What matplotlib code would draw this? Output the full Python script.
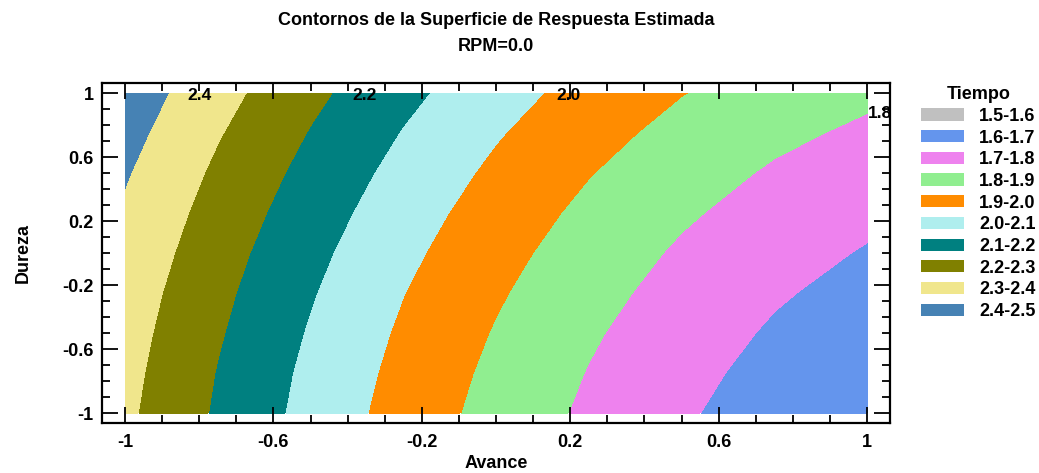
import matplotlib
matplotlib.use("Agg")
import matplotlib.pyplot as plt
from matplotlib.patches import Patch
from matplotlib.ticker import MultipleLocator
import numpy as np

plt.rcParams['font.family'] = ['Liberation Sans', 'DejaVu Sans']
plt.rcParams['font.weight'] = 'bold'

# grid of the estimated surface (Avance x Dureza)
avance = [-1.0, -0.75, -0.5, -0.25, 0.0, 0.25, 0.5, 0.75, 1.0]
dureza = [-1.0, -0.75, -0.5, -0.25, 0.0, 0.25, 0.5, 0.75, 1.0]
tiempo = [
    [2.319, 2.187, 2.067, 1.959, 1.864, 1.782, 1.712, 1.654, 1.609],
    [2.328, 2.196, 2.077, 1.971, 1.877, 1.796, 1.727, 1.670, 1.626],
    [2.339, 2.209, 2.091, 1.985, 1.893, 1.812, 1.744, 1.689, 1.646],
    [2.352, 2.223, 2.107, 2.002, 1.911, 1.831, 1.765, 1.710, 1.669],
    [2.369, 2.240, 2.125, 2.022, 1.931, 1.853, 1.787, 1.734, 1.693],
    [2.387, 2.260, 2.146, 2.044, 1.954, 1.877, 1.813, 1.760, 1.721],
    [2.408, 2.282, 2.169, 2.068, 1.980, 1.904, 1.840, 1.789, 1.751],
    [2.432, 2.307, 2.195, 2.095, 2.008, 1.933, 1.870, 1.820, 1.783],
    [2.458, 2.334, 2.223, 2.124, 2.038, 1.964, 1.903, 1.854, 1.818],
]

levels = [1.5, 1.6, 1.7, 1.8, 1.9, 2.0, 2.1, 2.2, 2.3, 2.4, 2.5]
level_names = ['1.5-1.6', '1.6-1.7', '1.7-1.8', '1.8-1.9', '1.9-2.0',
               '2.0-2.1', '2.1-2.2', '2.2-2.3', '2.3-2.4', '2.4-2.5']
level_colors = ['silver', 'cornflowerblue', 'violet', 'lightgreen', 'darkorange',
                'paleturquoise', 'teal', 'olive', 'khaki', 'steelblue']

# contour labels drawn along the top edge
label_text = ['2.4', '2.2', '2.0', '1.8']
label_x = [-0.80, -0.355, 0.195, 1.035]
label_y = [0.985, 0.985, 0.985, 0.875]

fig = plt.figure(figsize=(10.39, 4.73), dpi=100)
ax = fig.add_axes([0.0982, 0.1057, 0.7584, 0.7188])

X, Y = np.meshgrid(avance, dureza)
ax.contourf(X, Y, np.array(tiempo), levels=levels, colors=level_colors)

for t, lx, ly in zip(label_text, label_x, label_y):
    ax.text(lx, ly, t, ha='center', va='center', fontsize=12.5,
            fontweight='bold', clip_on=False, zorder=5)

ax.set_xlim(-1.062, 1.062)
ax.set_ylim(-1.0625, 1.0625)
ax.set_xticks([-1, -0.6, -0.2, 0.2, 0.6, 1])
ax.set_xticklabels(['-1', '-0.6', '-0.2', '0.2', '0.6', '1'])
ax.set_yticks([-1, -0.6, -0.2, 0.2, 0.6, 1])
ax.set_yticklabels(['-1', '-0.6', '-0.2', '0.2', '0.6', '1'])
ax.xaxis.set_minor_locator(MultipleLocator(0.1))
ax.yaxis.set_minor_locator(MultipleLocator(0.1))
ax.tick_params(which='both', direction='in', top=True, right=True,
               width=1.3, labelsize=13)
ax.tick_params(which='major', length=11.5)
ax.tick_params(which='minor', length=5.5)
ax.tick_params(axis='x', which='major', pad=8)
ax.tick_params(axis='y', which='major', pad=6)
for s in ax.spines.values():
    s.set_linewidth(1.6)

ax.set_xlabel('Avance', fontsize=13, fontweight='bold', labelpad=3)
ax.set_ylabel('Dureza', fontsize=13, fontweight='bold', labelpad=22)
ax.set_title('Contornos de la Superficie de Respuesta Estimada\nRPM=0.0',
             fontsize=13, fontweight='bold', pad=23, linespacing=1.7)

handles = [Patch(facecolor=c, edgecolor='none') for c in level_colors]
leg = fig.legend(handles, level_names, title='Tiempo', loc='upper left',
                 bbox_to_anchor=(0.8777, 0.837), frameon=False,
                 prop={'weight': 'bold', 'size': 13}, borderpad=0,
                 handlelength=2.4, handleheight=0.67, labelspacing=0.26,
                 handletextpad=0.83)
leg.get_title().set_fontweight('bold')
leg.get_title().set_fontsize(13)

fig.savefig('out.png', dpi=100)
